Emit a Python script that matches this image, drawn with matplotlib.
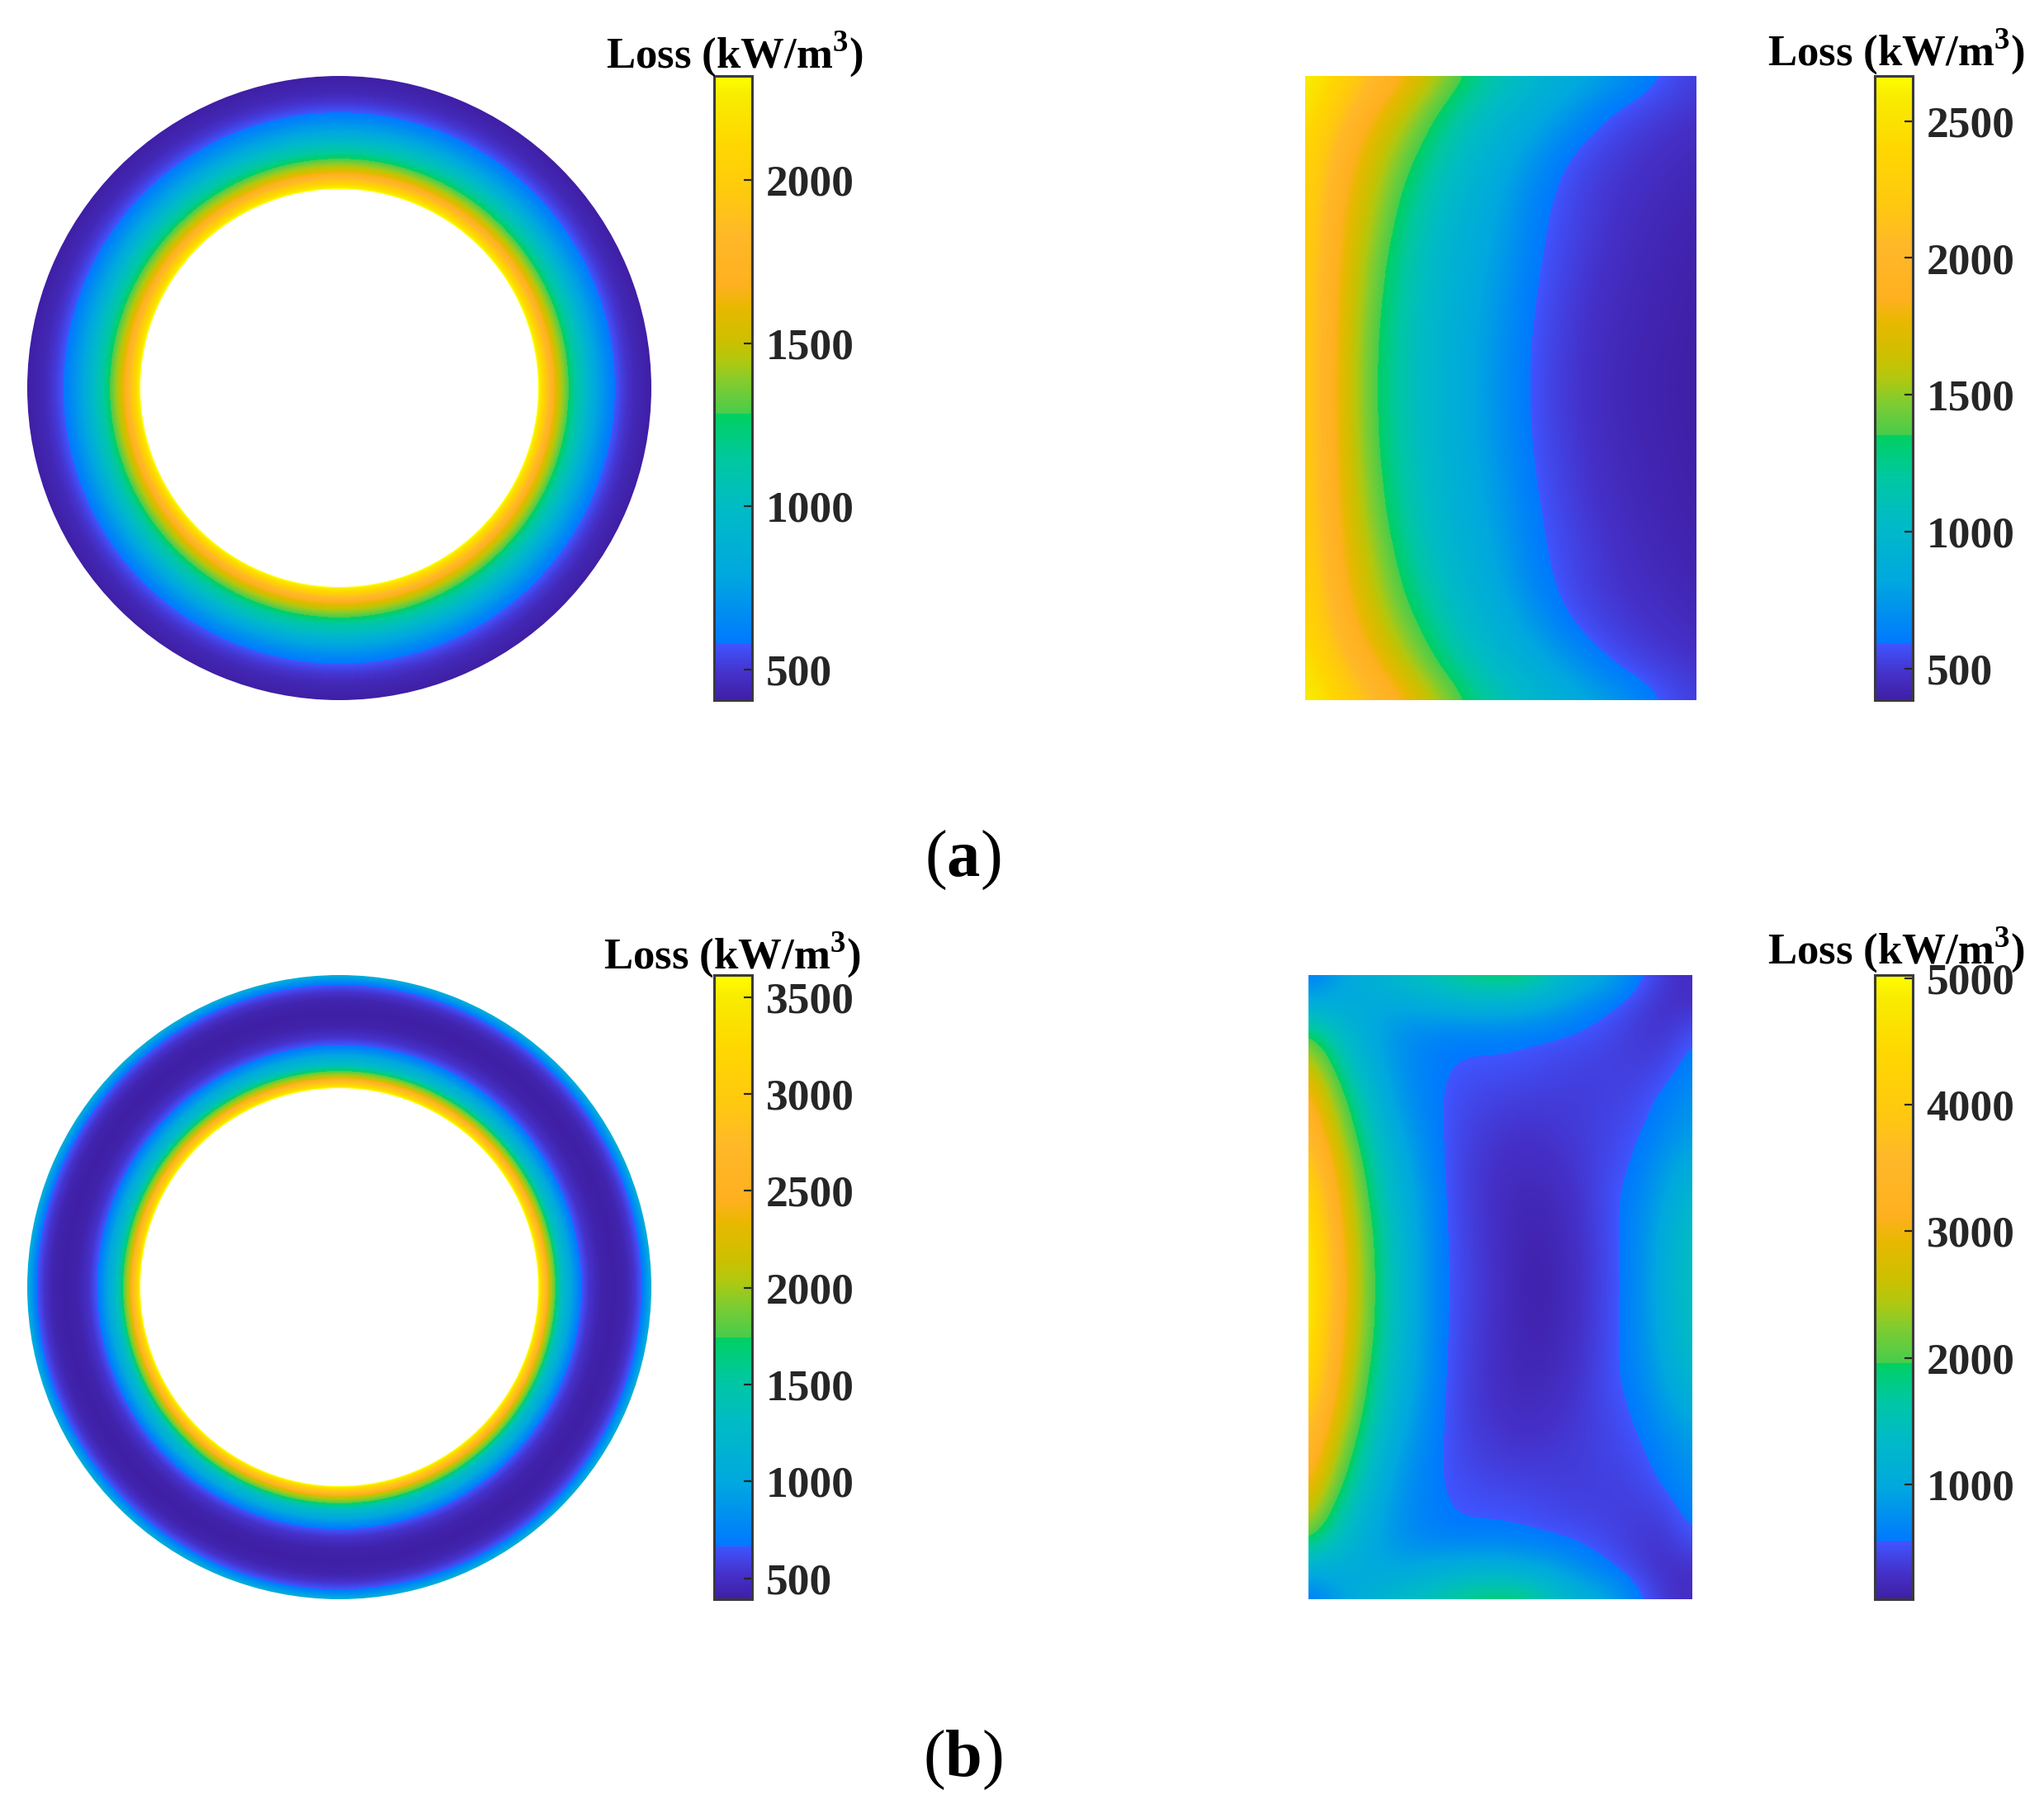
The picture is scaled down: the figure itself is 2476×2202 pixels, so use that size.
import numpy as np
import matplotlib
matplotlib.use('Agg')
import matplotlib.pyplot as plt
from matplotlib.cm import ScalarMappable
from matplotlib.colors import LinearSegmentedColormap, Normalize
from matplotlib.patches import Circle, Wedge

plt.rcParams['font.family'] = ['Liberation Serif', 'DejaVu Serif']
plt.rcParams['mathtext.fontset'] = 'custom'
plt.rcParams['mathtext.rm'] = 'Liberation Serif'
plt.rcParams['mathtext.bf'] = 'Liberation Serif:bold'

W, H = 2476, 2202

# radial loss profiles of the two rings, position 0 = bore edge, 1 = outer edge
ring_a_pos = [0, .04, .08, .12, .16, .205, .265, .33, .40, .494, .55, .62, .675, .75, .85, 1]
ring_a_val = [2319, 2100, 1900, 1720, 1560, 1430, 1284, 1130, 1010, 800, 730, 640, 578, 510, 445, 406]
ring_b_pos = [0, .03, .063, .10, .136, .2, .28, .367, .45, .55, .67, .78, .85, .927, .96, 1]
ring_b_val = [3614, 3100, 2700, 2100, 1851, 1350, 1000, 687, 520, 420, 392, 430, 520, 687, 850, 1050]

# section (a): rows from top edge to mid height, mirrored below; 13 columns left to right
rect_a_rows = [
    [2665, 2393, 2117, 1846, 1584, 1330, 1146, 982, 896, 810, 694, 583, 520],
    [2560, 2231, 1899, 1642, 1390, 1177, 987, 893, 790, 640, 560, 525, 490],
    [2470, 2070, 1749, 1506, 1270, 1041, 914, 800, 640, 555, 510, 480, 455],
    [2420, 1961, 1661, 1401, 1163, 966, 858, 700, 570, 520, 485, 458, 435],
    [2380, 1895, 1599, 1319, 1081, 925, 815, 640, 555, 505, 465, 440, 420],
    [2350, 1856, 1543, 1262, 1023, 899, 783, 620, 545, 495, 455, 430, 410],
    [2330, 1826, 1487, 1212, 990, 880, 759, 605, 535, 482, 445, 422, 402],
    [2320, 1803, 1454, 1186, 976, 865, 737, 590, 525, 470, 438, 416, 398],
    [2310, 1787, 1423, 1161, 964, 853, 719, 580, 515, 462, 432, 412, 395],
    [2305, 1778, 1408, 1150, 958, 845, 706, 572, 508, 458, 428, 408, 392],
    [2300, 1776, 1403, 1145, 956, 843, 703, 570, 505, 455, 425, 405, 390],
]

# section (b): rows from top edge to mid height, mirrored below; 15 columns left to right
rect_b_rows = [
    [500, 850, 1100, 1300, 1500, 1700, 1900, 2000, 1900, 1500, 1200, 1000, 650, 350, 250],
    [1100, 1050, 1050, 950, 1000, 1050, 1100, 1080, 1000, 900, 700, 560, 400, 280, 300],
    [2100, 1480, 1100, 820, 660, 600, 590, 600, 570, 530, 500, 440, 360, 330, 550],
    [2800, 1850, 1250, 880, 660, 560, 520, 510, 480, 440, 410, 400, 400, 450, 680],
    [3300, 2250, 1500, 950, 680, 530, 450, 410, 390, 380, 390, 410, 450, 620, 780],
    [3700, 2550, 1700, 1100, 750, 530, 400, 340, 310, 340, 380, 440, 520, 680, 880],
    [4100, 2900, 1900, 1250, 820, 520, 370, 290, 250, 290, 360, 470, 570, 850, 1050],
    [4500, 3150, 2050, 1350, 900, 530, 370, 260, 200, 250, 340, 500, 640, 950, 1250],
    [4800, 3300, 2200, 1450, 930, 540, 380, 260, 170, 200, 320, 490, 680, 1050, 1400],
    [4950, 3450, 2280, 1500, 950, 550, 390, 270, 150, 180, 310, 480, 690, 1080, 1450],
    [5000, 3500, 2300, 1500, 950, 548, 400, 280, 130, 170, 300, 470, 700, 1100, 1500],
]

ring_a_range = (406, 2319)
rect_a_range = (385, 2665)
ring_b_range = (392, 3614)
rect_b_range = (96, 5023)

ring_a_ticks = [500, 1000, 1500, 2000]
rect_a_ticks = [500, 1000, 1500, 2000, 2500]
ring_b_ticks = [500, 1000, 1500, 2000, 2500, 3000, 3500]
rect_b_ticks = [1000, 2000, 3000, 4000, 5000]

# where the colour scale jumps (blue, green), as a fraction of each bar
ring_a_breaks = (.09, .459)
rect_a_breaks = (.09, .425)
ring_b_breaks = (.085, .42)
rect_b_breaks = (.092, .379)


def make_cmap(b, g):
    low = [(0, '#3F1FA4'), (.45, '#4530C8'), (1, '#3F55FF')]
    mid = [(0, '#0078FF'), (.3, '#00A8DF'), (.6, '#00BCC4'), (.8, '#00C8A0'), (1, '#00D060')]
    top = [(0, '#48CC4C'), (.09, '#80CC30'), (.155, '#B0C810'), (.215, '#CCC000'), (.315, '#E8B800'),
           (.38, '#FFB020'), (.53, '#FFB828'), (.64, '#FFC810'), (.80, '#FFD700'), (.945, '#F8EC00'), (1, '#FFFF00')]
    stops = [(p * b, c) for p, c in low]
    stops += [(b + p * (g - b), c) for p, c in mid]
    stops += [(g + p * (1 - g), c) for p, c in top]
    return LinearSegmentedColormap.from_list('loss', stops, N=1024)


def px_axes(x0, y0, x1, y1):
    return fig.add_axes([x0 / W, 1 - y1 / H, (x1 - x0) / W, (y1 - y0) / H])


def draw_ring(box, pos, val, rng, breaks):
    ax = px_axes(*box)
    ro = (box[2] - box[0]) / 2
    ri = 241
    # a little past both edges, the white masks below give the clean circles
    rad = np.r_[ri - 4, ri + np.array(pos) * (ro - ri), ro + 4]
    prof = np.r_[val[0], val, val[-1]]
    theta = np.linspace(0, 2 * np.pi, 721)
    rr, tt = np.meshgrid(rad, theta)
    zz = np.tile(prof, (len(theta), 1))
    levels = np.linspace(rng[0], rng[1], 400)
    cmap = make_cmap(*breaks)
    ax.contourf(rr * np.cos(tt), rr * np.sin(tt), zz, levels=levels, cmap=cmap,
                vmin=rng[0], vmax=rng[1], extend='both')
    ax.add_patch(Circle((0, 0), ri, fc='white', ec='none', zorder=5))
    ax.add_patch(Wedge((0, 0), ro + 30, 0, 360, width=30, fc='white', ec='none', zorder=5))
    ax.set_xlim(-ro, ro)
    ax.set_ylim(-ro, ro)
    ax.axis('off')
    return ScalarMappable(Normalize(*rng), cmap)


def draw_rect(box, rows, rng, breaks):
    ax = px_axes(*box)
    top = np.array(rows, dtype=float)
    grid = np.vstack([top, top[-2::-1]])
    du = .5 / (grid.shape[1] - 1)
    dv = .5 / (grid.shape[0] - 1)
    im = ax.imshow(grid, extent=(-du, 1 + du, 1 + dv, -dv), aspect='auto', cmap=make_cmap(*breaks),
                   vmin=rng[0], vmax=rng[1], interpolation='bicubic', interpolation_stage='data')
    ax.set_xlim(0, 1)
    ax.set_ylim(1, 0)
    ax.axis('off')
    return im


def draw_bar(mappable, box, ticks, title_xy):
    cax = px_axes(*box)
    cb = fig.colorbar(mappable, cax=cax, ticks=ticks)
    cb.outline.set_edgecolor('#3a3a3a')
    cb.outline.set_linewidth(2.2)
    cb.ax.tick_params(direction='in', length=7, width=1.6, color='#262626', pad=12,
                      labelsize=38.5, labelcolor='#262626')
    for t in cb.ax.get_yticklabels():
        t.set_fontweight('bold')
    fig.text(title_xy[0] / W, 1 - title_xy[1] / H, r'Loss (kW/m$^{\mathbf{3}}$)', fontsize=38, fontweight='bold',
             ha='center', va='baseline', color='black')


fig = plt.figure(figsize=(W / 100, H / 100), dpi=100, facecolor='white')

m = draw_ring((33, 92, 789, 848), ring_a_pos, ring_a_val, ring_a_range, ring_a_breaks)
draw_bar(m, (865, 92, 911, 848), ring_a_ticks, (890, 82))
m = draw_rect((1581, 92, 2055, 848), rect_a_rows, rect_a_range, rect_a_breaks)
draw_bar(m, (2271, 92, 2317, 848), rect_a_ticks, (2297, 79))

m = draw_ring((33, 1181, 789, 1937), ring_b_pos, ring_b_val, ring_b_range, ring_b_breaks)
draw_bar(m, (865, 1181, 911, 1937), ring_b_ticks, (887, 1173))
m = draw_rect((1585, 1181, 2050, 1937), rect_b_rows, rect_b_range, rect_b_breaks)
draw_bar(m, (2271, 1181, 2317, 1937), rect_b_ticks, (2297, 1167))

fig.text(1166 / W, 1 - 1061 / H, r'($\mathbf{a}$)', fontsize=58, ha='center', va='baseline', color='black')
fig.text(1166 / W, 1 - 2151 / H, r'($\mathbf{b}$)', fontsize=58, ha='center', va='baseline', color='black')

plt.savefig('out.png', dpi=100, facecolor='w')
plt.close()
